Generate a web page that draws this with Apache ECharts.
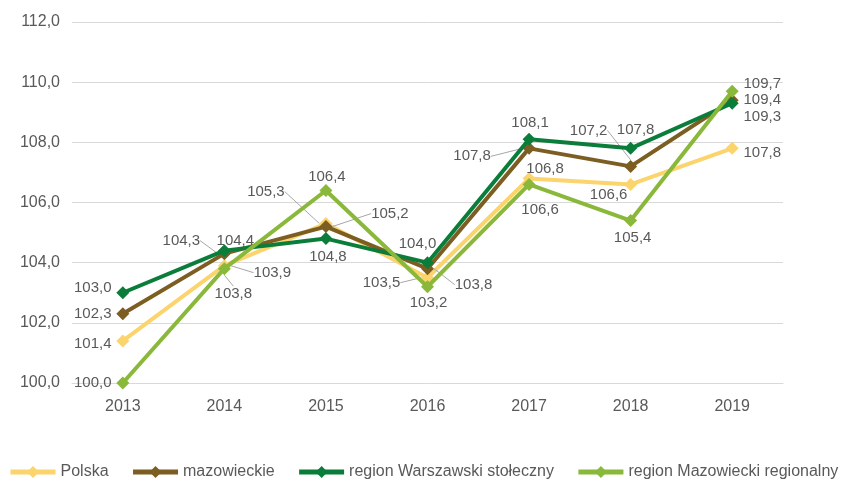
<!DOCTYPE html>
<html>
<head>
<meta charset="utf-8">
<script src="https://cdn.jsdelivr.net/npm/echarts@6/dist/echarts.min.js"></script>
<style>
html,body{margin:0;padding:0;background:#fff;}
#chart{width:847px;height:480px;}
</style>
</head>
<body>
<div id="chart"></div>
<script>
// dane
var years = ['2013','2014','2015','2016','2017','2018','2019'];
var polska = [101.4, 103.9, 105.3, 103.5, 106.8, 106.6, 107.8];
var mazowieckie = [102.3, 104.3, 105.2, 103.8, 107.8, 107.2, 109.4];
var warszawski = [103.0, 104.4, 104.8, 104.0, 108.1, 107.8, 109.3];
var regionalny = [100.0, 103.8, 106.4, 103.2, 106.6, 105.4, 109.7];
var yTicks = [100, 102, 104, 106, 108, 110, 112];

var names = ['Polska','mazowieckie','region Warszawski stołeczny','region Mazowiecki regionalny'];
var colors = ['#fbd46d','#7d5e22','#0b7d3a','#8ab83a'];

// przesunięcia etykiet (dx, dy od punktu) i linie odniesienia
var labelOffsets = [
    [[-30,3],[48,7],[-60,-32],[-46,5],[16,-10],[-22,10],[30,5]],
    [[-30,0],[-43,-13],[64,-13],[46,16],[-57,8],[-42,-36],[30,0]],
    [[-30,-5],[11,-10],[2,18],[-10,-19],[1,-16],[5,-18],[30,14]],
    [[-30,0],[9,25],[1,-14],[1,16],[11,25],[2,17],[30,-7]]
];
var leaders = [
    [0,1,1,1,0,0,0],
    [0,1,1,1,1,1,0],
    [0,0,0,0,0,0,0],
    [0,1,0,0,0,0,0]
];

var fmt = function(v){ return Number(v).toFixed(1).replace('.', ','); };

function makeSeries(idx, values){
    return {
        name: names[idx],
        type: 'line',
        data: values.map(function(v, i){
            return {value: v, labelLine: {show: !!leaders[idx][i]}};
        }),
        symbol: 'diamond',
        symbolSize: 13,
        lineStyle: {width: 4, color: colors[idx]},
        itemStyle: {color: colors[idx]},
        label: {
            show: true,
            position: 'inside',
            fontSize: 15,
            color: '#595959',
            fontFamily: 'Liberation Sans, Arial, sans-serif',
            formatter: function(p){ return fmt(p.value); }
        },
        labelLine: {show: false, lineStyle: {color: '#a6a6a6', width: 1}},
        labelLayout: function(p){
            var o = labelOffsets[idx][p.dataIndex];
            return {dx: o[0], dy: o[1]};
        },
        z: 2 + idx
    };
}

var chart = echarts.init(document.getElementById('chart'));
chart.setOption({
    animation: false,
    textStyle: {fontFamily: 'Liberation Sans, Arial, sans-serif'},
    grid: {left: 72, right: 64, top: 22, bottom: 97},
    legend: {
        left: 8,
        top: 464,
        padding: 0,
        width: 1200,
        itemWidth: 45,
        itemHeight: 15,
        itemGap: 22,
        lineStyle: {width: 5},
        textStyle: {fontSize: 16, color: '#595959'},
        data: names
    },
    xAxis: {
        type: 'category',
        data: years,
        axisLine: {lineStyle: {color: '#d9d9d9'}},
        axisTick: {show: false},
        axisLabel: {fontSize: 16, color: '#595959', margin: 16}
    },
    yAxis: {
        type: 'value',
        min: yTicks[0],
        max: yTicks[yTicks.length - 1],
        interval: 2,
        splitLine: {lineStyle: {color: '#d9d9d9'}},
        axisLabel: {fontSize: 16, color: '#595959', margin: 12, formatter: fmt}
    },
    series: [
        makeSeries(0, polska),
        makeSeries(1, mazowieckie),
        makeSeries(2, warszawski),
        makeSeries(3, regionalny)
    ]
});
</script>
</body>
</html>
